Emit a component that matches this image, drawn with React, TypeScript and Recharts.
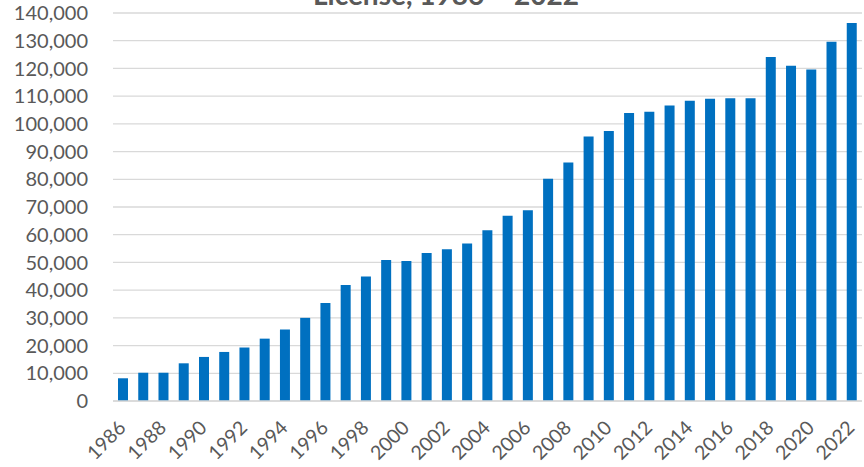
import { BarChart, Bar, XAxis, YAxis, CartesianGrid } from 'recharts'

const years = [
  '1986', '1987', '1988', '1989', '1990', '1991', '1992', '1993', '1994', '1995',
  '1996', '1997', '1998', '1999', '2000', '2001', '2002', '2003', '2004', '2005',
  '2006', '2007', '2008', '2009', '2010', '2011', '2012', '2013', '2014', '2015',
  '2016', '2017', '2018', '2019', '2020', '2021', '2022',
]

const counts = [
  8200, 10200, 10200, 13600, 15900, 17700, 19300, 22500, 25800, 30000,
  35400, 41900, 44900, 50900, 50500, 53400, 54800, 56800, 61600, 66800,
  68800, 80200, 86100, 95400, 97400, 103900, 104400, 106600, 108300, 109100,
  109200, 109200, 124100, 121000, 119600, 129600, 136400,
]

const yTicks = [0, 10000, 20000, 30000, 40000, 50000, 60000, 70000, 80000, 90000, 100000, 110000, 120000, 130000, 140000]

const titleText = 'License, 1986 – 2022'

const data = years.map((year, i) => ({ year, count: counts[i] }))

const font = 'Lato, "Open Sans", sans-serif'

// rotated year label, anchored at the end of its baseline
function YearTick(props: any) {
  const { x, y, payload } = props
  return (
    <g transform={`translate(${x + 4},${y + 28})`}>
      <text
        textAnchor="end"
        transform="rotate(-45)"
        fill="#595959"
        fontSize={19.5}
        fontFamily={font}
      >
        {payload.value}
      </text>
    </g>
  )
}

function App() {
  return (
    <div style={{ position: 'absolute', left: 0, top: 0, width: 864, height: 467 }}>
      <BarChart
        width={864}
        height={467}
        data={data}
        margin={{ top: 13, right: 2, left: 0, bottom: 0 }}
        barSize={10}
      >
        <CartesianGrid vertical={false} stroke="#d9d9d9" strokeWidth={1.3} />
        <XAxis
          dataKey="year"
          interval={1}
          height={66}
          tickLine={false}
          tickSize={0}
          tickMargin={0}
          axisLine={{ stroke: '#d9d9d9', strokeWidth: 1.3 }}
          tick={<YearTick />}
        />
        <YAxis
          width={113}
          domain={[0, 140000]}
          ticks={yTicks}
          interval={0}
          tickLine={false}
          axisLine={false}
          tickSize={0}
          tickMargin={25}
          tickFormatter={(v: number) => v.toLocaleString('en-US')}
          tick={{ fill: '#595959', fontSize: 20, fontFamily: font }}
        />
        <Bar dataKey="count" fill="#0070C0" isAnimationActive={false} />
      </BarChart>
      <svg
        width={864}
        height={40}
        style={{ position: 'absolute', left: 0, top: 0, pointerEvents: 'none' }}
      >
        <text
          x={446}
          y={5}
          textAnchor="middle"
          fill="#595959"
          fontFamily={font}
          fontWeight="bold"
          fontSize={28}
        >
          {titleText}
        </text>
      </svg>
    </div>
  )
}

export default App
